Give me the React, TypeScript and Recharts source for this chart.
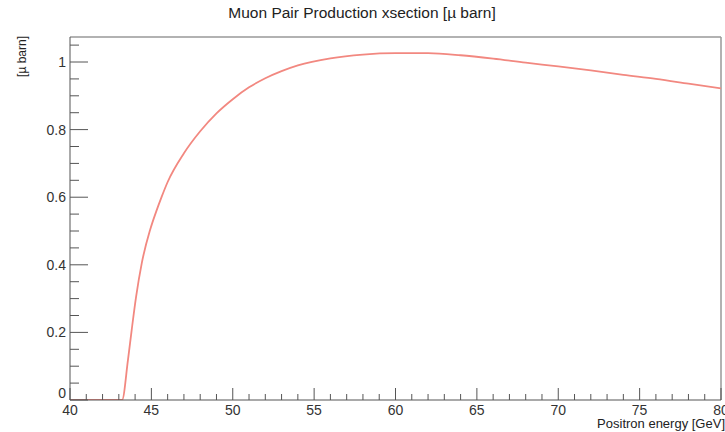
import React from "react";
import { LineChart, Line, XAxis, YAxis, ReferenceLine } from "recharts";

const energies = [40, 41, 42, 43, 43.2, 43.56, 43.79, 44.06, 44.41, 44.92, 45.3, 45.63, 46, 47, 48, 49, 50, 51, 52, 53, 54, 56, 58, 60, 62, 64, 66, 68, 70, 72, 74, 76, 78, 80];
const xsection = [0, 0, 0, 0, 0, 0.118, 0.207, 0.305, 0.405, 0.503, 0.558, 0.601, 0.645, 0.73, 0.795, 0.848, 0.89, 0.925, 0.952, 0.973, 0.99, 1.011, 1.022, 1.026, 1.026, 1.02, 1.01, 0.998, 0.987, 0.975, 0.962, 0.95, 0.936, 0.922];

const xTicks = Array.from({ length: 41 }, (_, i) => 40 + i);
const yTicks = Array.from({ length: 22 }, (_, i) => Math.round(i * 5) / 100);
const yMax = 1.074;

const title = "Muon Pair Production xsection [\u00b5 barn]";
const xTitle = "Positron energy [GeV]";
const yTitle = "[\u00b5 barn]";

const data = energies.map((e, i) => ({ e, v: xsection[i] }));

const FONT = "'Liberation Sans', Arial, Helvetica, sans-serif";
const AXIS_COLOR = "#555";

const XTick = (props: any) => {
  const { x, y, payload } = props;
  const v = payload.value;
  const major = v % 5 === 0;
  return (
    <g>
      <line x1={x} x2={x} y1={y} y2={y - (major ? 12 : 6)} stroke={AXIS_COLOR} strokeWidth={1} />
      {major && (
        <text x={x} y={y + 15} textAnchor="middle" fontSize={14} fill="#333" fontFamily={FONT}>
          {v}
        </text>
      )}
    </g>
  );
};

const YTick = (props: any) => {
  const { x, y, payload } = props;
  const v = payload.value;
  const k = Math.round(v * 100);
  const major = k % 20 === 0;
  return (
    <g>
      <line x1={x} x2={x + (major ? 18 : 9)} y1={y} y2={y} stroke={AXIS_COLOR} strokeWidth={1} />
      {major && (
        <text x={x - 4} y={k === 0 ? y - 2 : y + 5} textAnchor="end" fontSize={14} fill="#333" fontFamily={FONT}>
          {k === 0 ? "0" : k === 100 ? "1" : (k / 100).toString()}
        </text>
      )}
    </g>
  );
};

export default function App() {
  return (
    <div style={{ position: "absolute", left: 0, top: 0, width: 725, height: 432, background: "#fff" }}>
      <LineChart width={725} height={432} data={data} margin={{ top: 37, right: 4, bottom: 0, left: 0 }}>
        <XAxis
          dataKey="e"
          type="number"
          domain={[40, 80]}
          ticks={xTicks}
          interval={0}
          tickSize={0}
          tickMargin={0}
          tick={<XTick />}
          height={32}
          stroke={AXIS_COLOR}
          allowDataOverflow
        />
        <YAxis
          type="number"
          domain={[0, yMax]}
          ticks={yTicks}
          interval={0}
          tickSize={0}
          tickMargin={0}
          tick={<YTick />}
          width={70}
          stroke={AXIS_COLOR}
          allowDataOverflow
        />
        <ReferenceLine y={yMax} stroke="#999" strokeWidth={1.5} />
        <ReferenceLine x={80} stroke="#999" strokeWidth={1.5} />
        <Line
          dataKey="v"
          type="monotone"
          stroke="#f28880"
          strokeWidth={1.8}
          dot={false}
          isAnimationActive={false}
        />
        <text x={362} y={18} textAnchor="middle" fontSize={15.5} fill="#222" fontFamily={FONT}>
          {title}
        </text>
        <text x={725} y={428} textAnchor="end" fontSize={13} fill="#222" fontFamily={FONT}>
          {xTitle}
        </text>
        <text x={26} y={36} textAnchor="end" fontSize={12} fill="#222" fontFamily={FONT} transform="rotate(-90 26 36)">
          {yTitle}
        </text>
      </LineChart>
    </div>
  );
}
